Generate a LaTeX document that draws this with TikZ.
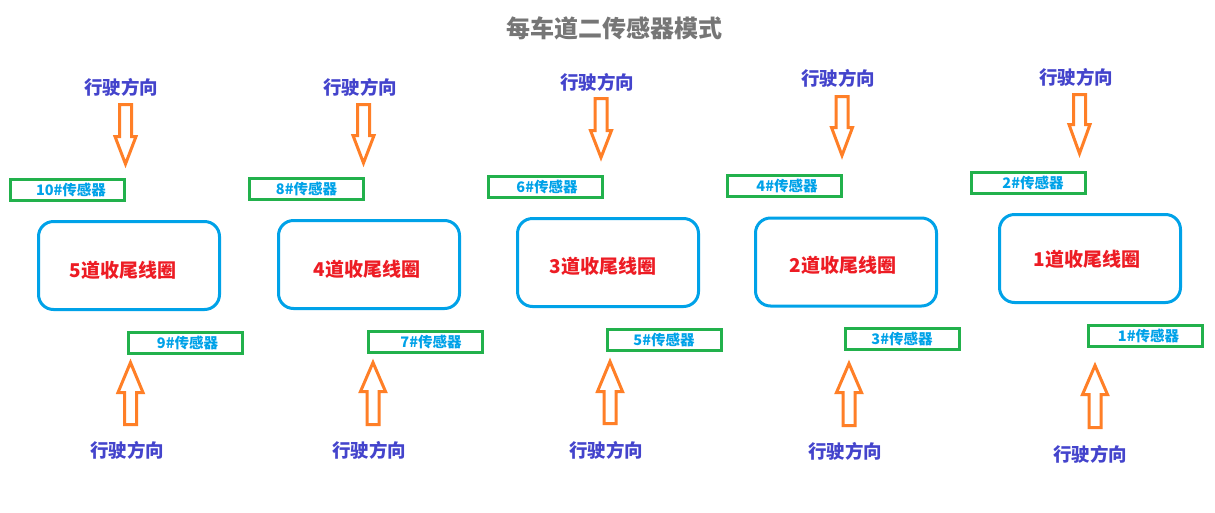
\documentclass[tikz,border=0pt]{standalone}
\usepackage{fontspec}
\newfontfamily\cjk{Noto Sans CJK SC}
\definecolor{titlegray}{RGB}{118,118,118}
\definecolor{dirblue}{RGB}{68,68,204}
\definecolor{arroworange}{RGB}{255,127,39}
\definecolor{boxgreen}{RGB}{34,177,76}
\definecolor{sensorblue}{RGB}{0,162,232}
\definecolor{lanered}{RGB}{237,28,36}
\tikzset{
  title/.style={font=\cjk\bfseries\fontsize{24}{28}\selectfont, text=titlegray, inner sep=0pt},
  dir/.style={font=\cjk\bfseries\fontsize{18.5}{22}\selectfont, text=dirblue, inner sep=0pt},
  sensor/.style={draw=boxgreen, line width=3pt, minimum width=114pt, minimum height=21pt, inner sep=0pt,
     font=\cjk\bfseries\fontsize{14.5}{17}\selectfont, text=sensorblue},
  lane/.style={draw=sensorblue, line width=3pt, rounded corners=15pt, minimum width=181pt, minimum height=88pt, inner sep=0pt},
  lanetext/.style={font=\cjk\bfseries\fontsize{19}{23}\selectfont, text=lanered, inner sep=0pt},
  blockarrow/.style={draw=arroworange, line width=3pt, line join=miter, fill=white}
}
\newcommand\darrow[4]{% cx, ytop, ywing, ytip
  \draw[blockarrow] ({#1-6},#2) -- ({#1+6},#2) -- ({#1+6},#3) -- ({#1+10.5},#3) -- (#1,#4)
     -- ({#1-10.5},#3) -- ({#1-6},#3) -- cycle;}
\newcommand\uarrow[4]{% cx, ytip, ywing, ybot
  \draw[blockarrow] (#1,#2) -- ({#1+12.5},#3) -- ({#1+6},#3) -- ({#1+6},#4) -- ({#1-6},#4)
     -- ({#1-6},#3) -- ({#1-12.5},#3) -- cycle;}
\begin{document}
\begin{tikzpicture}[x=1pt,y=-1pt]
\fill[white] (0,0) rectangle (1215,512);
\useasboundingbox (0,0) rectangle (1215,512);

\node[title] (title) at (614,28) {每车道二传感器模式};

% direction labels
\node[dir] (dt5) at (121,87) {行驶方向};
\node[dir] (dt4) at (360,87) {行驶方向};
\node[dir] (dt3) at (597,82) {行驶方向};
\node[dir] (dt2) at (838,78) {行驶方向};
\node[dir] (dt1) at (1076,77) {行驶方向};
\node[dir] (db5) at (127,450) {行驶方向};
\node[dir] (db4) at (369,450) {行驶方向};
\node[dir] (db3) at (606,450) {行驶方向};
\node[dir] (db2) at (845,451) {行驶方向};
\node[dir] (db1) at (1090,454) {行驶方向};

% down arrows
\darrow{125.5}{104.5}{136.5}{164}
\darrow{363.5}{104.5}{135.5}{163}
\darrow{601}{98.5}{130.5}{157.5}
\darrow{842}{96.5}{127.5}{155.5}
\darrow{1079.5}{94.5}{124.5}{153.5}

% up arrows
\uarrow{130.5}{362.5}{392.5}{424.5}
\uarrow{373}{362.5}{391.5}{424.5}
\uarrow{610}{361.5}{391.5}{423.5}
\uarrow{849}{363.5}{392.5}{425.5}
\uarrow{1095}{365.5}{394.5}{427.5}

% sensors (upper)
\node[sensor] (s10) at (67,189.5) {\hspace{8pt}10\#传感器};
\node[sensor] (s8) at (306.5,189) {8\#传感器};
\node[sensor] (s6) at (545.5,186.5) {\hspace{3pt}6\#传感器};
\node[sensor] (s4) at (784,185.5) {\hspace{6pt}4\#传感器};
\node[sensor] (s2) at (1028,183) {\hspace{10pt}2\#传感器};
% sensors (lower)
\node[sensor] (s9) at (185,342.5) {\hspace{5pt}9\#传感器};
\node[sensor] (s7) at (425,341.5) {\hspace{12pt}7\#传感器};
\node[sensor] (s5) at (664,340) {5\#传感器};
\node[sensor] (s3) at (902,338.5) {3\#传感器};
\node[sensor] (s1) at (1145.5,336) {\hspace{6pt}1\#传感器};

% lane loops
\node[lane, label={[lanetext, xshift=-6pt, yshift=-5pt]center:5道收尾线圈}] (l5) at (129,265.5) {};
\node[lane, label={[lanetext, xshift=-2pt, yshift=-5pt]center:4道收尾线圈}] (l4) at (369,264.5) {};
\node[lane, label={[lanetext, xshift=-5pt, yshift=-4pt]center:3道收尾线圈}] (l3) at (608,262.5) {};
\node[lane, label={[lanetext, xshift=-3pt, yshift=-3pt]center:2道收尾线圈}] (l2) at (846,262) {};
\node[lane, label={[lanetext, xshift=-3pt, yshift=-1pt]center:1道收尾线圈}] (l1) at (1090,258.5) {};
\end{tikzpicture}
\end{document}
